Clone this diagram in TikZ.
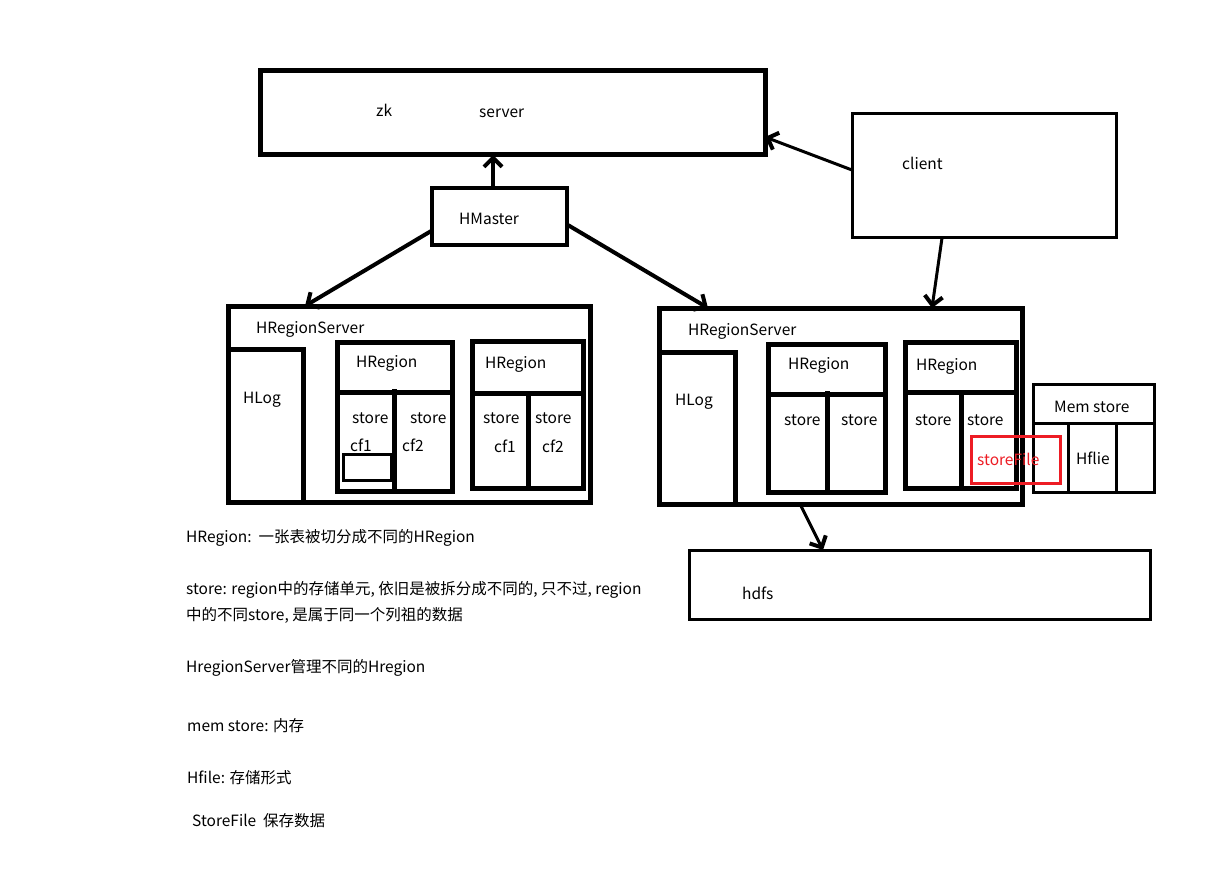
\documentclass[tikz,border=0pt]{standalone}
\usepackage{fontspec}
\setmainfont{Noto Sans CJK SC}
\usetikzlibrary{arrows.meta}
\definecolor{pred}{RGB}{237,28,36}
\begin{document}
\begin{tikzpicture}[x=1pt,y=-1pt,
  bx/.style={draw,inner sep=0pt,outer sep=0pt,anchor=north west},
  lbl/.style={inner sep=0pt,anchor=base west,font=\fontsize{15.5}{18}\selectfont},
  arr/.style={line width=4pt,-{Straight Barb[length=9pt,width=18pt,line width=4pt]}},
  seg/.style={line width=5pt}]
\useasboundingbox (0,0) rectangle (1228,885);
% main boxes
\node[bx,line width=5pt,minimum width=505,minimum height=84] (zk) at (260,71) {};
\node[bx,line width=4pt,minimum width=135,minimum height=57] (hm) at (432,188) {};
\node[bx,line width=3pt,minimum width=264,minimum height=124] (client) at (852,114) {};
\node[bx,line width=5pt,minimum width=362,minimum height=196] (rs1) at (228,306) {};
\node[bx,line width=5pt,minimum width=363,minimum height=196] (rs2) at (659,308) {};
\node[bx,line width=5pt,minimum width=115,minimum height=149] (r1a) at (337,342) {};
\node[bx,line width=5pt,minimum width=111,minimum height=147] (r1b) at (472,341) {};
\node[bx,line width=5pt,minimum width=117,minimum height=148] (r2a) at (768,344) {};
\node[bx,line width=5pt,minimum width=111,minimum height=146] (r2b) at (905,342) {};
\node[bx,line width=3pt,minimum width=121,minimum height=108] (mem) at (1033,384) {};
\node[bx,line width=3pt,minimum width=461,minimum height=69] (hdfs) at (689,550) {};
\node[bx,line width=3pt,minimum width=48,minimum height=26] (small) at (343,454) {};
% inner dividers
\draw[seg] (228,349) -- (303,349);
\draw[seg] (303,347) -- (303,504);
\draw[seg] (337,392) -- (452,392);
\draw[seg] (394,389) -- (394,493);
\draw[seg] (472,393) -- (583,393);
\draw[seg] (528,393) -- (528,488);
\draw[seg] (659,352) -- (735,352);
\draw[seg] (735,350) -- (735,507);
\draw[seg] (768,394) -- (885,394);
\draw[seg] (827,391) -- (827,495);
\draw[seg] (905,392) -- (1016,392);
\draw[seg] (961,392) -- (961,488);
\draw[line width=3pt] (1033,423) -- (1154,423);
\draw[line width=3pt] (1068,423) -- (1068,492);
\draw[line width=3pt] (1116,423) -- (1116,492);
% connectors
\draw[arr] ([xshift=-6.5pt]hm.north) -- ([xshift=-6.5pt]hm.north |- zk.south);
\draw[arr] ([yshift=-14pt]hm.west) -- ([xshift=77pt]rs1.north west);
\draw[arr] ([yshift=-8pt]hm.east) -- ([xshift=49pt]rs2.north west);
\draw[arr,line width=3pt] ([yshift=6pt]client.west) -- ([yshift=-24pt]zk.east);
\draw[arr,line width=3pt] ([xshift=-42pt]client.south) -- ([xshift=273pt]rs2.north west);
\draw[arr,line width=3pt] ([xshift=141pt]rs2.south west) -- ([xshift=134pt]hdfs.north west);
% labels
\node[lbl] (tzk) at (376,117) {zk};
\node[lbl] (tsrv) at (479,118) {server};
\node[lbl] (thm) at (459,225) {HMaster};
\node[lbl] (tcl) at (902,170) {client};
\node[lbl] (trs1) at (256,333) {HRegionServer};
\node[lbl] (thl1) at (243,403) {HLog};
\node[lbl] (tr1a) at (356,367) {HRegion};
\node[lbl] (ts1) at (352,423) {store};
\node[lbl] (ts2) at (410,423) {store};
\node[lbl] (tc1) at (350,451) {cf1};
\node[lbl] (tc2) at (402,451) {cf2};
\node[lbl] (tr1b) at (485,368) {HRegion};
\node[lbl] (ts3) at (483,423) {store};
\node[lbl] (ts4) at (535,423) {store};
\node[lbl] (tc3) at (494,452) {cf1};
\node[lbl] (tc4) at (542,452) {cf2};
\node[lbl] (trs2) at (688,335) {HRegionServer};
\node[lbl] (thl2) at (675,405) {HLog};
\node[lbl] (tr2a) at (788,369) {HRegion};
\node[lbl] (ts5) at (784,425) {store};
\node[lbl] (ts6) at (841,425) {store};
\node[lbl] (tr2b) at (916,370) {HRegion};
\node[lbl] (ts7) at (915,425) {store};
\node[lbl] (ts8) at (967,425) {store};
\node[lbl] (tmem) at (1054,412) {Mem store};
\node[lbl] (thf) at (1076,464) {Hflie};
\node[lbl] (thd) at (742,599) {hdfs};
% red storeFile
\node[bx,draw=pred,line width=3pt,minimum width=89,minimum height=47] (sf) at (971,436) {};
\node[lbl,text=pred] (tsf) at (977,465) {storeFile};
% notes
\node[lbl] (n1) at (186,542) {HRegion:\ \ 一张表被切分成不同的HRegion};
\node[lbl] (n2) at (186,594) {store: region中的存储单元, 依旧是被拆分成不同的, 只不过, region};
\node[lbl] (n3) at (186,620) {中的不同store, 是属于同一个列祖的数据};
\node[lbl] (n4) at (186,672) {HregionServer管理不同的Hregion};
\node[lbl] (n5) at (187,731) {mem store: 内存};
\node[lbl] (n6) at (187,783) {Hfile: 存储形式};
\node[lbl] (n7) at (192,826) {StoreFile\ \ 保存数据};
\end{tikzpicture}
\end{document}
